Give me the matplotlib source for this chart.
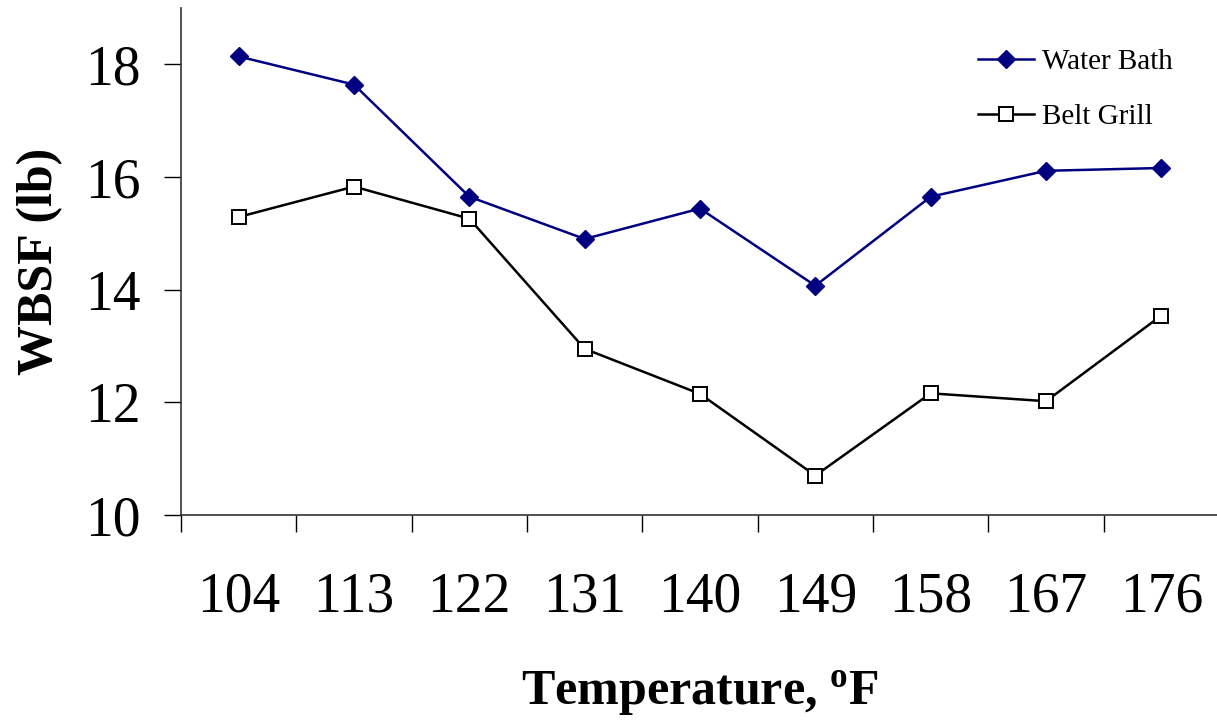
import numpy as np
import matplotlib.pyplot as plt
from matplotlib.ticker import FixedLocator, NullFormatter

plt.rcParams['font.family'] = 'Liberation Serif'
plt.rcParams['mathtext.fontset'] = 'custom'
plt.rcParams['mathtext.rm'] = 'Liberation Serif'
plt.rcParams['mathtext.bf'] = 'Liberation Serif:bold'

# data
temps = ['104', '113', '122', '131', '140', '149', '158', '167', '176']
water_bath = [18.14, 17.64, 15.65, 14.90, 15.44, 14.07, 15.65, 16.11, 16.16]
belt_grill = [15.29, 15.83, 15.26, 12.95, 12.15, 10.70, 12.16, 12.02, 13.54]

x = np.arange(len(temps))

fig = plt.figure(figsize=(12.17, 7.23), dpi=100)
ax = fig.add_axes([181/1217, 208/723, 1038/1217, 507/723])

ax.plot(x, water_bath, color='#000080', lw=1.8, marker='D', ms=9.5,
        mfc='#000080', mec='#000080', label='Water Bath')
ax.plot(x, belt_grill, color='black', lw=1.8, marker='s', ms=10.5,
        mfc='white', mec='black', mew=1.4, label='Belt Grill')

ax.set_xlim(-0.5, len(temps) - 0.5)
ax.set_ylim(10, 19)
ax.set_yticks([10, 12, 14, 16, 18])

# category boundaries get tick marks, labels sit at the centres
ax.xaxis.set_major_locator(FixedLocator(np.arange(-0.5, len(temps), 1.0)))
ax.xaxis.set_major_formatter(NullFormatter())
ax.xaxis.set_minor_locator(FixedLocator(x))
ax.set_xticklabels(temps, minor=True)
ax.tick_params(axis='x', which='major', direction='out', length=12, width=1)
ax.tick_params(axis='x', which='minor', length=0, pad=41, labelsize=40)
ax.tick_params(axis='y', direction='out', length=12, width=1, pad=17, labelsize=40)

for s in ['top', 'right']:
    ax.spines[s].set_visible(False)
for s in ['left', 'bottom']:
    ax.spines[s].set_linewidth(1.2)
    ax.spines[s].set_color('#333333')

ax.set_ylabel('WBSF (lb)', fontsize=36, fontweight='bold', labelpad=16)
ax.set_xlabel(r'Temperature, $\mathbf{^{o}}$F', fontsize=36, fontweight='bold', labelpad=33)

ax.legend(loc='upper right', bbox_to_anchor=(0.981, 0.972), frameon=False,
          fontsize=21, handlelength=1.9, handletextpad=0.3, labelspacing=1.0)

fig.savefig('out.png', dpi=100)
